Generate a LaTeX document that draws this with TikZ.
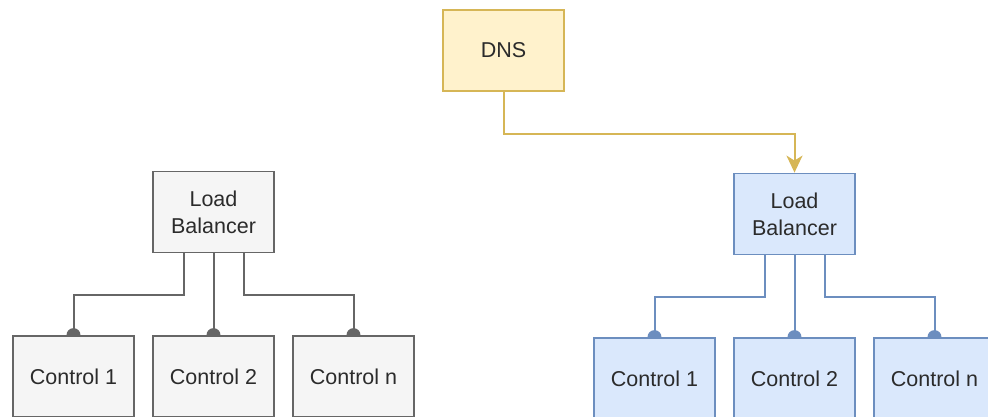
\documentclass[tikz,border=0pt]{standalone}
\usepackage{fontspec}
\setmainfont{Liberation Sans}
\usetikzlibrary{arrows.meta,backgrounds,calc}
\definecolor{greyfill}{HTML}{F5F5F5}
\definecolor{greyline}{HTML}{666666}
\definecolor{bluefill}{HTML}{DAE8FC}
\definecolor{blueline}{HTML}{6C8EBF}
\definecolor{yellowfill}{HTML}{FFF2CC}
\definecolor{yellowline}{HTML}{D6B656}
\definecolor{textgrey}{HTML}{2B2B2B}
\tikzset{
  box/.style={rectangle, minimum width=121pt, minimum height=81pt, inner sep=0pt,
    line width=1.8pt, text=textgrey, align=center,
    font=\fontsize{21.5pt}{27pt}\selectfont},
  greybox/.style={box, draw=greyline, fill=greyfill},
  bluebox/.style={box, draw=blueline, fill=bluefill},
  dnsbox/.style={box, draw=yellowline, fill=yellowfill},
  greylink/.style={draw=greyline, line width=2pt},
  bluelink/.style={draw=blueline, line width=2pt},
  enddot/.style={circle, inner sep=0pt, minimum size=14pt, fill=#1},
}
\begin{document}
\begin{tikzpicture}[x=1pt, y=-1pt]
\useasboundingbox (0,0) rectangle (988,416);

% DNS
\node[dnsbox] (dns) at (503.5,50.5) {DNS};

% left group
\node[greybox] (lbL) at (213.5,212) {Load\\Balancer};
\node[greybox] (cL1) at (73.5,376.5) {Control 1};
\node[greybox] (cL2) at (213.5,376.5) {Control 2};
\node[greybox] (cLn) at (353.5,376.5) {Control n};

% right group
\node[bluebox] (lbR) at (794.5,214) {Load\\Balancer};
\node[bluebox] (cR1) at (654.5,378.5) {Control 1};
\node[bluebox] (cR2) at (794.5,378.5) {Control 2};
\node[bluebox] (cRn) at (934.5,378.5) {Control n};

\begin{scope}[on background layer]
  \draw[greylink] ([xshift=-30pt]lbL.south) -- ++(0,42) -| (cL1.north) node[enddot=greyline]{};
  \draw[greylink] (lbL.south) -- (cL2.north) node[enddot=greyline]{};
  \draw[greylink] ([xshift=30pt]lbL.south) -- ++(0,42) -| (cLn.north) node[enddot=greyline]{};

  \draw[bluelink] ([xshift=-30pt]lbR.south) -- ++(0,42) -| (cR1.north) node[enddot=blueline]{};
  \draw[bluelink] (lbR.south) -- (cR2.north) node[enddot=blueline]{};
  \draw[bluelink] ([xshift=30pt]lbR.south) -- ++(0,42) -| (cRn.north) node[enddot=blueline]{};

  \draw[draw=yellowline, line width=2pt, -{Stealth[length=17pt,width=16pt,inset=5pt,fill=yellowline]}]
    (dns.south) -- ++(0,42) -| (lbR.north);
\end{scope}
\end{tikzpicture}
\end{document}
